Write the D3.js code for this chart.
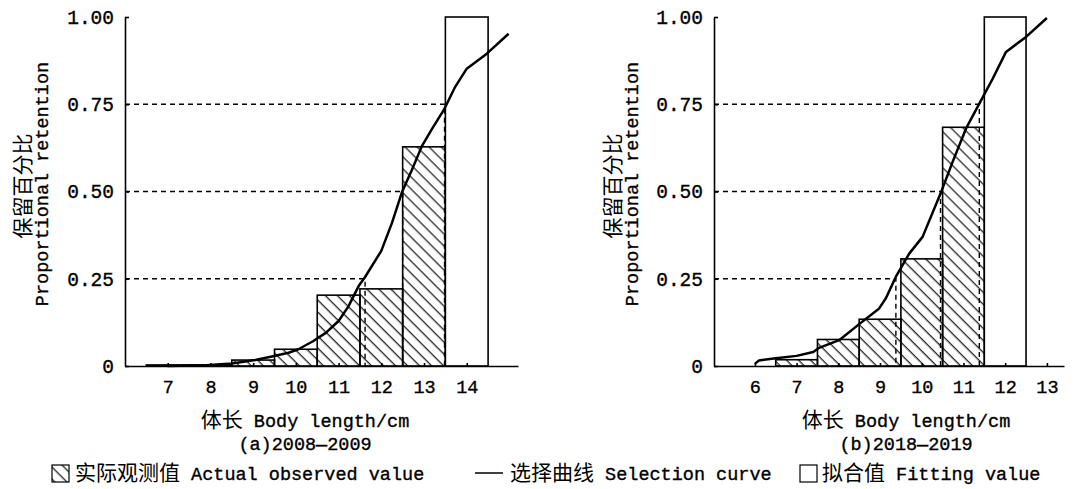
<!DOCTYPE html>
<html lang='zh'>
	<head>
		<meta charset='utf-8'>
		<title>Selection curve</title>
		<script src="https://d3js.org/d3.v7.min.js"></script>
		<style type="text/css">
			body { margin: 0; background: #fff; }
			text { fill: #000; }
			.lat { font-family: 'Liberation Mono', 'DejaVu Sans Mono', monospace; stroke: #000; stroke-width: 0.35px; }
			.cjk { font-family: 'Noto Sans CJK SC', sans-serif; }
		</style>
	</head>
	<body>
		<script type='text/javascript'>
			//Data: panel (a) 2008-2009
			var aLen = [7, 8, 9, 10, 11, 12, 13];
			var aObs = [0.003, 0.003, 0.017, 0.048, 0.203, 0.221, 0.628];
			var aFitLen = [14];
			var aFit = [1.00];
			var aCurveLen = [7.0, 7.9, 8.5, 9.05, 9.44, 9.83, 10.06, 10.4, 10.7, 11.0, 11.23, 11.47, 11.62, 12.0, 12.25, 12.48, 12.71, 12.95, 13.18, 13.46, 13.73, 14.0, 14.47, 14.98];
			var aCurveRet = [0.0, 0.002, 0.007, 0.017, 0.027, 0.038, 0.048, 0.071, 0.095, 0.129, 0.171, 0.229, 0.255, 0.33, 0.41, 0.497, 0.56, 0.63, 0.678, 0.733, 0.8, 0.852, 0.895, 0.952];
			var aRefLen = [11.62, 12.5, 13.48];
			var aTicks = [7, 8, 9, 10, 11, 12, 13, 14];

			//Data: panel (b) 2018-2019
			var bLen = [7, 8, 9, 10, 11];
			var bObs = [0.018, 0.076, 0.134, 0.307, 0.684];
			var bFitLen = [12];
			var bFit = [1.00];
			var bCurveLen = [6.0, 6.1, 6.5, 7.0, 7.4, 7.54, 8.02, 8.5, 8.98, 9.14, 9.38, 9.7, 10.02, 10.45, 10.74, 11.06, 11.38, 11.7, 12.02, 12.5, 13.0];
			var bCurveRet = [0.006, 0.016, 0.022, 0.029, 0.04, 0.052, 0.074, 0.12, 0.165, 0.194, 0.256, 0.322, 0.37, 0.494, 0.585, 0.68, 0.752, 0.823, 0.9, 0.943, 0.997];
			var bRefLen = [9.38, 10.45, 11.38];
			var bTicks = [6, 7, 8, 9, 10, 11, 12, 13];

			var refLevels = [0.25, 0.50, 0.75];
			var yTicks = [0, 0.25, 0.50, 0.75, 1.00];

			//Width and height
			var w = 1078;
			var h = 489;
			var yTop = 17, yBottom = 366;

			var svg = d3.select("body")
						.append("svg")
						.attr("width", w)
						.attr("height", h);

			//hatch pattern
			svg.append("defs").append("pattern")
				.attr("id", "hatch")
				.attr("patternUnits", "userSpaceOnUse")
				.attr("width", 8.5)
				.attr("height", 8.5)
				.attr("patternTransform", "rotate(-45)")
				.append("line")
				.attr("x1", 4).attr("y1", 0)
				.attr("x2", 4).attr("y2", 8.5)
				.attr("stroke", "#000")
				.attr("stroke-width", 1.1);

			//mixed CJK / latin text
			function mixed(g, parts, x, y, anchor, rotate) {
				var t = g.append("text")
					.attr("x", x)
					.attr("y", y)
					.attr("text-anchor", anchor);
				if (rotate) t.attr("transform", "rotate(-90," + x + "," + y + ")");
				parts.forEach(function(p) {
					t.append("tspan")
						.attr("class", p[1] ? "cjk" : "lat")
						.attr("font-size", p[1] ? 21 : 18.5)
						.text(p[0]);
				});
				return t;
			}

			function panel(c) {
				var g = svg.append("g");
				var x = d3.scaleLinear().domain(c.domain).range([c.left, c.right]);
				var y = d3.scaleLinear().domain([0, 1]).range([yBottom, yTop]);

				//observed bars
				g.selectAll(".obs")
					.data(c.len)
					.enter()
					.append("rect")
					.attr("x", function(d) { return x(d - 0.5); })
					.attr("width", function(d) { return x(d + 0.5) - x(d - 0.5); })
					.attr("y", function(d, i) { return y(c.obs[i]); })
					.attr("height", function(d, i) { return y(0) - y(c.obs[i]); })
					.attr("fill", "url(#hatch)")
					.attr("stroke", "#000")
					.attr("stroke-width", 1.6);

				//fitting bars
				g.selectAll(".fit")
					.data(c.fitLen)
					.enter()
					.append("rect")
					.attr("x", function(d) { return x(d - 0.5); })
					.attr("width", function(d) { return x(d + 0.5) - x(d - 0.5); })
					.attr("y", function(d, i) { return y(c.fit[i]); })
					.attr("height", function(d, i) { return y(0) - y(c.fit[i]); })
					.attr("fill", "#fff")
					.attr("stroke", "#000")
					.attr("stroke-width", 1.6);

				//dashed reference lines
				refLevels.forEach(function(lv, i) {
					g.append("path")
						.attr("d", "M" + x.range()[0] + "," + y(lv) + "H" + x(c.ref[i]) + "V" + y(0))
						.attr("fill", "none")
						.attr("stroke", "#000")
						.attr("stroke-width", 1.4)
						.attr("stroke-dasharray", "5,4");
				});

				//selection curve
				var line = d3.line()
					.x(function(d) { return x(d[0]); })
					.y(function(d) { return y(d[1]); });
				g.append("path")
					.datum(d3.zip(c.curveLen, c.curveRet))
					.attr("d", line)
					.attr("fill", "none")
					.attr("stroke", "#000")
					.attr("stroke-width", 2.5)
					.attr("stroke-linejoin", "round");

				//axes
				var xAxis = d3.axisBottom(x)
					.tickValues(c.ticks)
					.tickSizeInner(-3)
					.tickSizeOuter(0)
					.tickPadding(14);
				var gx = g.append("g")
					.attr("transform", "translate(0," + yBottom + ")")
					.call(xAxis);
				gx.selectAll("text")
					.attr("class", "lat")
					.attr("font-size", 18.5);

				var yAxis = d3.axisLeft(y)
					.tickValues(yTicks)
					.tickSizeInner(-4)
					.tickSizeOuter(0)
					.tickPadding(11)
					.tickFormat(function(d) { return d === 0 ? "0" : d3.format(".2f")(d); });
				var gy = g.append("g")
					.attr("transform", "translate(" + c.left + ",0)")
					.call(yAxis);
				gy.selectAll("text")
					.attr("class", "lat")
					.attr("font-size", 19.5);

				g.selectAll(".domain, .tick line")
					.attr("stroke", "#000")
					.attr("stroke-width", 1.6);
				g.selectAll("g").attr("font-family", null).attr("font-size", null);

				//titles
				mixed(g, [["体长", 1], [" Body length/cm", 0]], c.xTitle, 427, "middle");
				mixed(g, [[c.sub, 0]], c.xTitle, 450, "middle");
				mixed(g, [["保留百分比", 1]], c.yTitle, 186, "middle", true);
				mixed(g, [["Proportional retention", 0]], c.yTitle + 18, 184, "middle", true);
			}

			panel({ left: 125, right: 518, domain: [6, 15.2],
				len: aLen, obs: aObs, fitLen: aFitLen, fit: aFit,
				curveLen: aCurveLen, curveRet: aCurveRet, ref: aRefLen, ticks: aTicks,
				xTitle: 305, sub: "(a)2008\u20142009", yTitle: 30 });

			panel({ left: 714, right: 1064, domain: [5.02, 13.41],
				len: bLen, obs: bObs, fitLen: bFitLen, fit: bFit,
				curveLen: bCurveLen, curveRet: bCurveRet, ref: bRefLen, ticks: bTicks,
				xTitle: 906, sub: "(b)2018\u20142019", yTitle: 620 });

			//legend
			var lg = svg.append("g");
			lg.append("rect")
				.attr("x", 52).attr("y", 465).attr("width", 17).attr("height", 17)
				.attr("fill", "url(#hatch)")
				.attr("stroke", "#000").attr("stroke-width", 1.2);
			mixed(lg, [["实际观测值", 1], [" Actual observed value", 0]], 75, 480, "start");
			lg.append("line")
				.attr("x1", 475).attr("x2", 503).attr("y1", 473).attr("y2", 473)
				.attr("stroke", "#000").attr("stroke-width", 1.5);
			mixed(lg, [["选择曲线", 1], [" Selection curve", 0]], 510, 480, "start");
			lg.append("rect")
				.attr("x", 800).attr("y", 465).attr("width", 17).attr("height", 17)
				.attr("fill", "#fff")
				.attr("stroke", "#000").attr("stroke-width", 1.2);
			mixed(lg, [["拟合值", 1], [" Fitting value", 0]], 822, 480, "start");
		</script>
	</body>
</html>
